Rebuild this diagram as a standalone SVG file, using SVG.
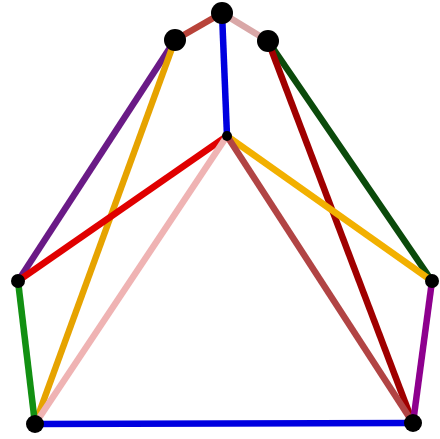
<svg xmlns="http://www.w3.org/2000/svg" width="440" height="439" viewBox="0 0 440 439">
<style>
.e{stroke-width:6.5;stroke-linecap:butt;fill:none}
.n{fill:#000}
</style>
<rect width="440" height="439" fill="#fff"/>
<g id="connectors">
<line class="e" x1="222" y1="13" x2="175" y2="40" stroke="#b8433a"/>
<line class="e" x1="222" y1="13" x2="268" y2="41" stroke="#d9a7a7"/>
<line class="e" x1="222" y1="13" x2="227" y2="136" stroke="#0000e0"/>
<line class="e" x1="175" y1="40" x2="18" y2="281" stroke="#6a1a86"/>
<line class="e" x1="175" y1="40" x2="35" y2="424" stroke="#e6a300"/>
<line class="e" x1="268" y1="41" x2="432" y2="281" stroke="#0b4a0b"/>
<line class="e" x1="268" y1="41" x2="413" y2="423" stroke="#a00000"/>
<line class="e" x1="227" y1="136" x2="18" y2="281" stroke="#e00000"/>
<line class="e" x1="227" y1="136" x2="35" y2="424" stroke="#efb3b3"/>
<line class="e" x1="227" y1="136" x2="432" y2="281" stroke="#f2b000"/>
<line class="e" x1="227" y1="136" x2="413" y2="423" stroke="#b14444"/>
<line class="e" x1="18" y1="281" x2="35" y2="424" stroke="#129012"/>
<line class="e" x1="432" y1="281" x2="413" y2="423" stroke="#8e008e"/>
<line class="e" x1="35" y1="424" x2="413" y2="423" stroke="#0000e0"/>
</g>
<g id="A"><circle class="n" cx="222" cy="13" r="11"/></g>
<g id="B"><circle class="n" cx="175" cy="40" r="11"/></g>
<g id="C"><circle class="n" cx="268" cy="41" r="11"/></g>
<g id="D"><circle class="n" cx="227" cy="136" r="5"/></g>
<g id="E"><circle class="n" cx="18" cy="281" r="7"/></g>
<g id="F"><circle class="n" cx="432" cy="281" r="7"/></g>
<g id="G"><circle class="n" cx="35" cy="424" r="9"/></g>
<g id="H"><circle class="n" cx="413" cy="423" r="9"/></g>
</svg>
